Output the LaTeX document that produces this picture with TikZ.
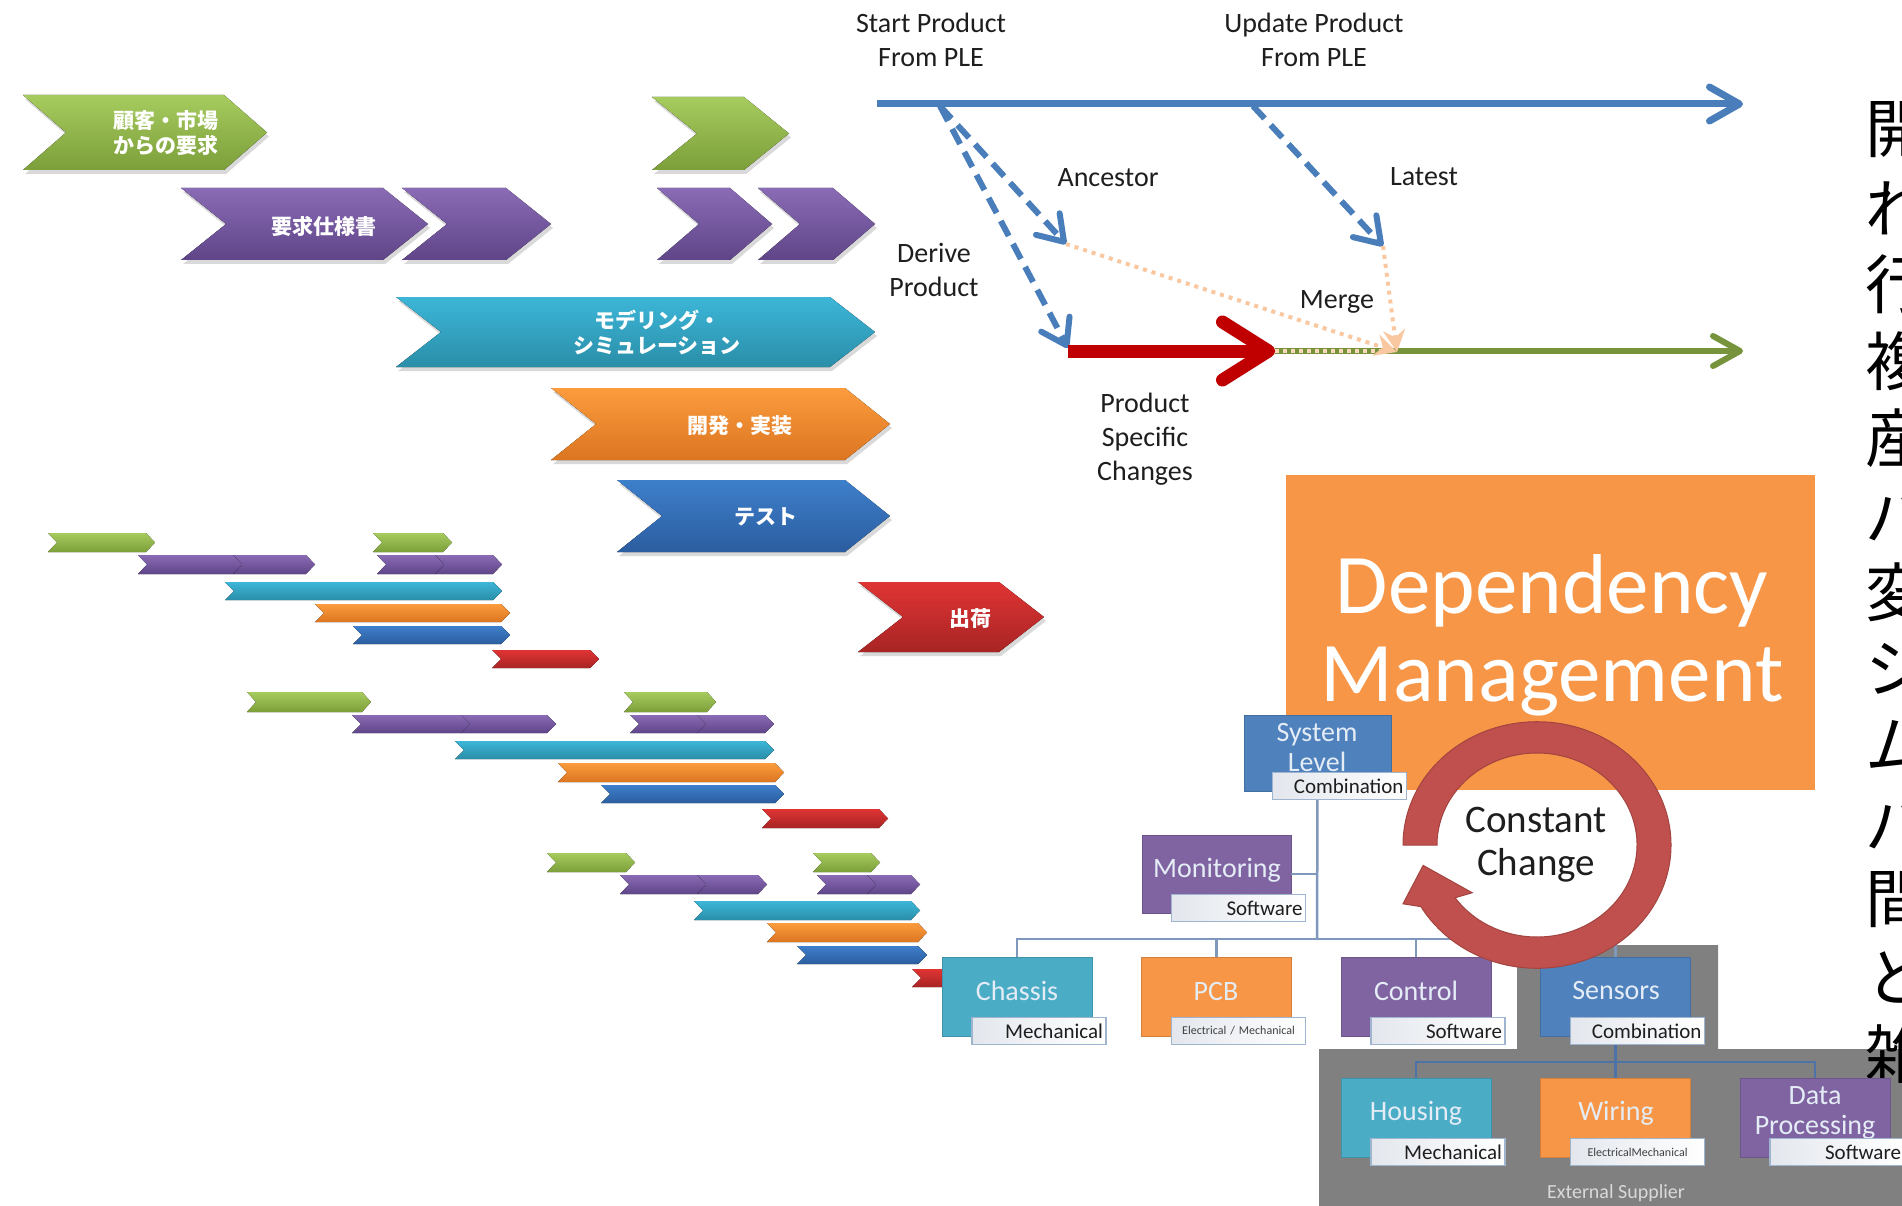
\documentclass[tikz,border=0pt]{standalone}
\usepackage{fontspec}
\setmainfont{Carlito}
\newfontfamily\jpfont{Noto Sans CJK JP}
\usetikzlibrary{arrows.meta}
\definecolor{gTop}{HTML}{A6CB5E}\definecolor{gBot}{HTML}{7C9F3A}
\definecolor{pTop}{HTML}{8A6BB5}\definecolor{pBot}{HTML}{5F4588}
\definecolor{cTop}{HTML}{3DB6D8}\definecolor{cBot}{HTML}{2A8EA8}
\definecolor{oTop}{HTML}{FB9C3E}\definecolor{oBot}{HTML}{DC7521}
\definecolor{bTop}{HTML}{3E7FCB}\definecolor{bBot}{HTML}{2B5D9F}
\definecolor{rTop}{HTML}{E03434}\definecolor{rBot}{HTML}{A82424}
\definecolor{tlBlue}{HTML}{4A7EBB}
\definecolor{tlRed}{HTML}{C00000}
\definecolor{tlGreen}{HTML}{77933C}
\definecolor{peach}{HTML}{FAC8A0}
\definecolor{dmOrange}{HTML}{F79646}
\definecolor{ringRed}{HTML}{C0504D}
\definecolor{oBlue}{HTML}{4F81BD}
\definecolor{oPurple}{HTML}{8064A2}
\definecolor{oCyan}{HTML}{4BACC6}
\definecolor{oOrange}{HTML}{F79646}
\definecolor{supGray}{HTML}{808080}
\definecolor{labBorder}{HTML}{9FB4CF}
\definecolor{labLeft}{HTML}{E3E7ED}
\definecolor{orgLine}{HTML}{7F98BC}
\definecolor{subLine}{HTML}{4C72A8}
\definecolor{ttlText}{HTML}{E4ECF6}
\definecolor{txt}{HTML}{1E1E1E}
% chevron: x1 x2 ytop ybottom depth style
\newcommand\chevr[6]{\fill[#6] (#1,#3) -- ({#2-#5},#3) -- (#2,{(#3+#4)/2}) -- ({#2-#5},#4) -- (#1,#4) -- ({#1+#5},{(#3+#4)/2}) -- cycle;}
\newcommand\bchev[6]{\fill[black,opacity=0.15] ({#1+2},{#3+4}) -- ({#2-#5+2},{#3+4}) -- ({#2+2},{(#3+#4)/2+4}) -- ({#2-#5+2},{#4+4}) -- ({#1+2},{#4+4}) -- ({#1+#5+2},{(#3+#4)/2+4}) -- cycle;\chevr{#1}{#2}{#3}{#4}{#5}{#6}}
\begin{document}
\begin{tikzpicture}[x=1pt,y=-1pt,
  gch/.style={top color=gTop,bottom color=gBot},
  pch/.style={top color=pTop,bottom color=pBot},
  cch/.style={top color=cTop,bottom color=cBot},
  och/.style={top color=oTop,bottom color=oBot},
  bch/.style={top color=bTop,bottom color=bBot},
  rch/.style={top color=rTop,bottom color=rBot},
  jtxt/.style={text=white,font=\jpfont\bfseries\fontsize{21}{25}\selectfont,align=center,inner sep=0pt},
  jcol/.style={text=black,font=\jpfont\fontsize{64}{64}\selectfont,anchor=west,inner sep=0pt},
  lbl/.style={text=txt,font=\fontsize{28}{34}\selectfont,align=center,inner sep=0pt},
  dashblue/.style={tlBlue,line width=6pt,dash pattern=on 17pt off 9pt,-{Straight Barb[length=24pt,width=32pt,round]}},
  peachdot/.style={peach,line width=4pt,dash pattern=on 4pt off 5pt,-{Stealth[length=22pt,width=22pt]}},
  orgbox/.style={minimum width=150pt,minimum height=79pt,inner sep=0pt,fill=#1,draw=#1!85!black,line width=0.8pt},
  ttl/.style={text=ttlText,font=\fontsize{28}{30}\selectfont,align=center,inner sep=0pt},
  lab/.style={draw=labBorder,line width=1.2pt,left color=labLeft,right color=white,minimum width=134pt,minimum height=27pt,inner sep=0pt,text width=128pt,align=right,font=\fontsize{21}{22}\selectfont,text=txt},
  slab/.style={lab,align=center,font=\fontsize{12}{13}\selectfont,text=black!75},
  orgline/.style={orgLine,line width=2.5pt},
  subline/.style={subLine,line width=2.5pt}]
\clip (0,0) rectangle (1902,1206);
\fill[white] (0,0) rectangle (1902,1206);

% ---------- big chevrons ----------
\bchev{23}{267}{95}{170}{43}{gch}
\bchev{652}{789}{97}{170}{45}{gch}
\bchev{181}{428}{188}{260}{45}{pch}
\bchev{402}{551}{188}{260}{45}{pch}
\bchev{657}{772}{188}{260}{42}{pch}
\bchev{758}{875}{188}{260}{42}{pch}
\bchev{396}{875}{297}{367}{45}{cch}
\bchev{551}{890}{388}{460}{45}{och}
\bchev{617}{890}{480}{552}{45}{bch}
\bchev{858}{1044}{582}{652}{45}{rch}
\node[jtxt] (t1) at (166,133) {顧客・市場\\からの要求};
\node[jtxt] (t2) at (324,226) {要求仕様書};
\node[jtxt] (t3) at (657,333) {モデリング・\\シミュレーション};
\node[jtxt] (t4) at (740,426) {開発・実装};
\node[jtxt] (t5) at (766,517) {テスト};
\node[jtxt] (t6) at (970,619) {出荷};

% ---------- small chevrons, group 1 ----------
\chevr{48}{155}{533}{552}{9}{gch}
\chevr{373}{452}{533}{552}{9}{gch}
\chevr{233}{315}{555}{574}{9}{pch}\chevr{138}{242}{555}{574}{9}{pch}
\chevr{435}{502}{555}{574}{9}{pch}\chevr{377}{444}{555}{574}{9}{pch}
\chevr{225}{502}{582}{600}{9}{cch}
\chevr{315}{510}{604}{622}{9}{och}
\chevr{353}{510}{626}{644}{9}{bch}
\chevr{492}{599}{650}{668}{9}{rch}
% group 2
\chevr{247}{371}{692}{712}{9}{gch}
\chevr{624}{716}{692}{712}{9}{gch}
\chevr{461}{556}{715}{733}{9}{pch}\chevr{352}{470}{715}{733}{9}{pch}
\chevr{697}{774}{715}{733}{9}{pch}\chevr{630}{706}{715}{733}{9}{pch}
\chevr{455}{774}{741}{759}{9}{cch}
\chevr{558}{784}{763}{782}{9}{och}
\chevr{601}{784}{785}{803}{9}{bch}
\chevr{762}{888}{809}{828}{9}{rch}
% group 3
\chevr{547}{635}{853}{872}{9}{gch}
\chevr{813}{880}{853}{872}{9}{gch}
\chevr{697}{767}{875}{894}{9}{pch}\chevr{620}{706}{875}{894}{9}{pch}
\chevr{867}{920}{875}{894}{9}{pch}\chevr{817}{876}{875}{894}{9}{pch}
\chevr{694}{920}{901}{920}{9}{cch}
\chevr{767}{927}{923}{942}{9}{och}
\chevr{797}{927}{946}{964}{9}{bch}
\chevr{912}{960}{969}{987}{9}{rch}

% ---------- product line timeline ----------
\coordinate (tlS) at (877,104);
\coordinate (tlE) at (1743,104);
\coordinate (dA) at (940,106);
\coordinate (ancE) at (1066,244);
\coordinate (derE) at (1068,348);
\coordinate (latS) at (1253,106);
\coordinate (latE) at (1383,246);
\coordinate (redS) at (1068,351);
\coordinate (redE) at (1275,351);
\coordinate (grE) at (1743,351);
\coordinate (mrg) at (1386,351);
\coordinate (pkE) at (1397,352);
\draw[tlBlue,line width=7pt,-{Straight Barb[length=30pt,width=34pt,round]}] (tlS) -- (tlE);
\draw[dashblue] (dA) -- (derE);
\draw[dashblue] (dA) -- (ancE);
\draw[dashblue] (latS) -- (latE);
\draw[tlGreen,line width=6pt,-{Straight Barb[length=27pt,width=30pt,round]}] (redE) -- (grE);
\draw[peach!70!white,line width=4pt,dash pattern=on 4pt off 4pt] (redE) -- (mrg);
\draw[peachdot] (ancE) -- (pkE);
\draw[peachdot] (latE) -- (pkE);
\draw[tlRed,line width=13pt,-{Straight Barb[length=46pt,width=58pt,round]}] (redS) -- (redE);
\node[lbl] (lStart) at (931,40) {Start Product\\From PLE};
\node[lbl] (lUpd) at (1314,40) {Update Product\\From PLE};
\node[lbl] (lAnc) at (1108,178) {Ancestor};
\node[lbl] (lLat) at (1424,177) {Latest};
\node[lbl] (lDer) at (934,270) {Derive\\Product};
\node[lbl] (lMrg) at (1337,302) {Merge};
\node[lbl] (lPsc) at (1145,439) {Product\\Specific\\Changes};

% ---------- right column (cut off at the edge, as in the reference) ----------
\node[jcol] (c1) at (1865,130) {開};
\node[jcol] (c2) at (1865,208) {れ};
\node[jcol] (c3) at (1865,284) {行};
\node[jcol] (c4) at (1865,361) {複};
\node[jcol] (c5) at (1865,438) {産};
\node[jcol] (c6) at (1865,515) {バ};
\node[jcol] (c7) at (1865,592) {変};
\node[jcol] (c8) at (1865,669) {シ};
\node[jcol] (c9) at (1865,746) {ム};
\node[jcol] (c10) at (1865,823) {バ};
\node[jcol] (c11) at (1865,900) {間};
\node[jcol] (c12) at (1865,977) {と};

% ---------- dependency management ----------
\node[fill=dmOrange,minimum width=529pt,minimum height=315pt,inner sep=0pt] (dm) at (1550.5,632.5) {};
\node[text=white,font=\fontsize{85}{88}\selectfont,align=center,inner sep=0pt] (dmt) at (1552,635) {Dependency\\Management};

% external supplier region
\fill[supGray] (1517,945) -- (1718,945) -- (1718,1049) -- (1902,1049) -- (1902,1206) -- (1319,1206) -- (1319,1049) -- (1517,1049) -- cycle;
\node[jcol] (c13) at (1865,1054) {雑};
\node[text=black!15,font=\fontsize{20}{22}\selectfont,inner sep=0pt] (ext) at (1616,1193) {External Supplier};

% ---------- org chart ----------
\coordinate (bus) at (1317,939);
\coordinate (sbus) at (1616,1062);
\node[orgbox=oBlue,minimum width=147pt,minimum height=76pt] (sys) at (1317.5,753) {};
\node[orgbox=oPurple,minimum width=149pt,minimum height=78pt] (mon) at (1216.5,874) {};
\node[orgbox=oCyan] (chas) at (1017,996.5) {};
\node[orgbox=oOrange] (pcb) at (1216.5,996.5) {};
\node[orgbox=oPurple] (ctrl) at (1416,996.5) {};
\node[orgbox=oBlue] (sens) at (1615.5,996.5) {};
\node[orgbox=oCyan] (hous) at (1416,1118) {};
\node[orgbox=oOrange] (wir) at (1615.5,1118) {};
\node[orgbox=oPurple] (dp) at (1815,1118) {};
\draw[orgline] (sys.south) -- (bus);
\draw[orgline] (mon.east) -- (mon.east -| bus);
\draw[orgline] (chas.north) |- (bus);
\draw[orgline] (pcb.north) |- (bus);
\draw[orgline] (ctrl.north) |- (bus);
\draw[orgline] (sens.north) |- (bus);
\draw[subline] (sens.south) -- (wir.north);
\draw[subline] (hous.north) |- (sbus);
\draw[subline] (dp.north) |- (sbus);
\node[ttl] (sysT) at (1317,748) {System\\Level};
\node[ttl] (monT) at (1217,870) {Monitoring};
\node[ttl] (chasT) at (1017,991) {Chassis};
\node[ttl] (pcbT) at (1216,991) {PCB};
\node[ttl] (ctrlT) at (1416,991) {Control};
\node[ttl] (sensT) at (1616,991) {Sensors};
\node[ttl] (housT) at (1416,1113) {Housing};
\node[ttl] (wirT) at (1616,1113) {Wiring};
\node[ttl] (dpT) at (1815,1113) {Data\\Processing};
\node[lab] (sysL) at (1339.5,786) {Combination};
\node[lab] (monL) at (1238.5,908) {Software};
\node[lab] (chasL) at (1039,1031) {Mechanical};
\node[slab] (pcbL) at (1238.5,1031) {Electrical / Mechanical};
\node[lab] (ctrlL) at (1438,1031) {Software};
\node[lab] (sensL) at (1637.5,1031) {Combination};
\node[lab] (housL) at (1438,1152) {Mechanical};
\node[slab] (wirL) at (1637.5,1152) {ElectricalMechanical};
\node[lab] (dpL) at (1837,1152) {Software};

% ---------- constant change ring ----------
\begin{scope}[shift={(1537,845)},yscale=0.92]
\fill[ringRed,draw=ringRed!85!black,line width=1pt] (180:134) arc[start angle=180,end angle=510,radius=134] -- (514.5:148.5) -- (529:116) -- (501.3:83) -- (505:100) arc[start angle=505,end angle=180,radius=100] -- cycle;
\end{scope}
\node[text=txt,font=\fontsize{39}{43}\selectfont,align=center,inner sep=0pt] (cc) at (1536,845) {Constant\\Change};
\end{tikzpicture}
\end{document}
